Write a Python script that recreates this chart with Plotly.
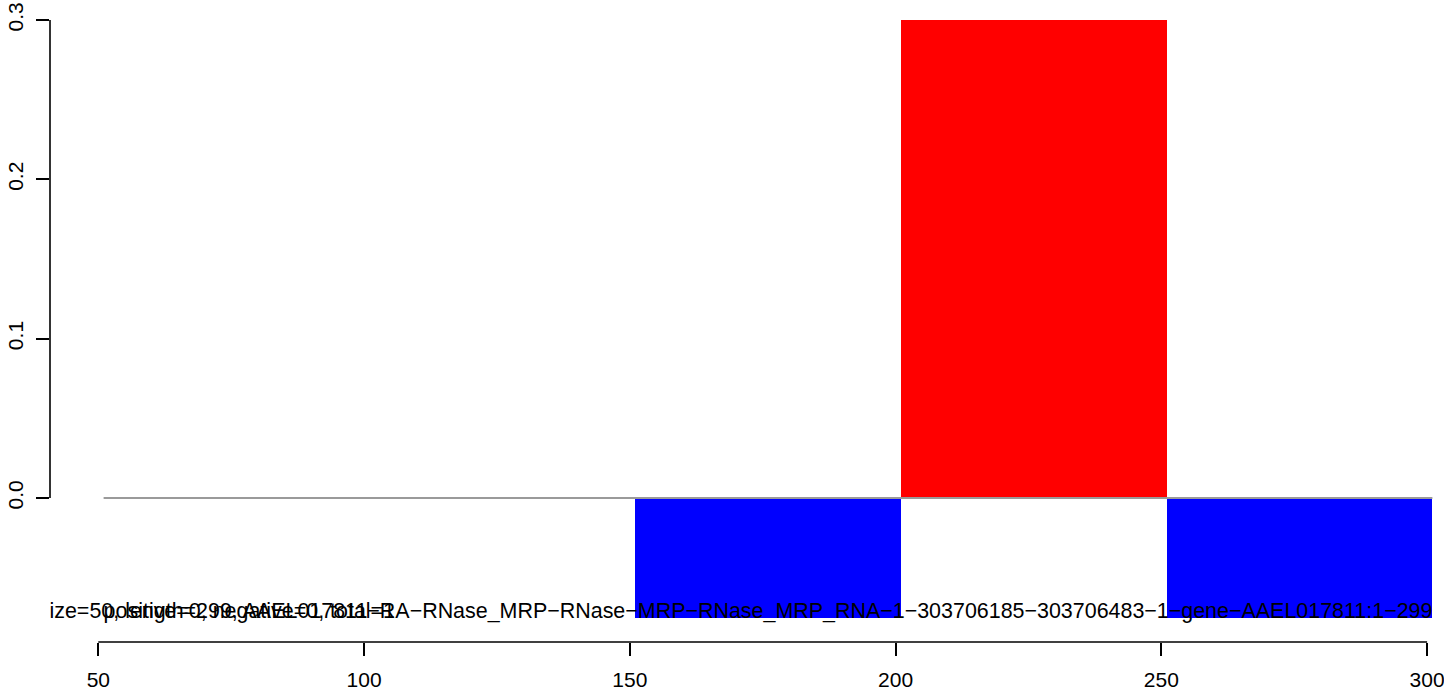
import plotly.graph_objects as go

# ---- data ----
bin_starts = [51, 101, 151, 201, 251]
bin_width = 50
values = [0.0, 0.0, -0.075, 0.3, -0.075]
x_ticks = [50, 100, 150, 200, 250, 300]
y_ticks = [0.0, 0.1, 0.2, 0.3]
y_tick_labels = ["0.0", "0.1", "0.2", "0.3"]
label_name = ("size=50, length=299, AAEL017811\u2212RA\u2212RNase_MRP\u2212RNase\u2212MRP\u2212"
              "RNase_MRP_RNA\u22121\u2212303706185\u2212303706483\u22121\u2212gene\u2212AAEL017811:1\u2212299")
label_counts = "positive=0, negative=0, total=1"

FONT = "Liberation Sans, Arial, Helvetica, sans-serif"
TEXT_Y = -0.072

centers = [s + bin_width / 2 for s in bin_starts]
colors = ["#FF0000" if v > 0 else "#0000FF" for v in values]
x_first = bin_starts[0]
x_last = bin_starts[-1] + bin_width

fig = go.Figure()
fig.add_trace(go.Bar(
    x=centers, y=values, base=0, width=[bin_width] * len(values),
    marker=dict(color=colors, line=dict(width=0)),
    showlegend=False, hoverinfo="skip",
))
# grey zero line across all bins
fig.add_trace(go.Scatter(
    x=[x_first, x_last], y=[0, 0],
    mode="lines", line=dict(color="#9a9a9a", width=2),
    showlegend=False, hoverinfo="skip",
))
# labels (clipped to the plot region, as in the original)
fig.add_trace(go.Scatter(
    x=[x_last], y=[TEXT_Y], mode="text", text=[label_name],
    textposition="middle left", textfont=dict(family=FONT, size=21.45, color="black"),
    cliponaxis=True, showlegend=False, hoverinfo="skip",
))
fig.add_trace(go.Scatter(
    x=[x_first], y=[TEXT_Y], mode="text", text=[label_counts],
    textposition="middle right", textfont=dict(family=FONT, size=21.45, color="black"),
    cliponaxis=True, showlegend=False, hoverinfo="skip",
))

# axis lines spanning only the tick range (R style)
fig.add_shape(type="line", xref="paper", yref="y", x0=0, x1=0,
              y0=min(y_ticks), y1=max(y_ticks), line=dict(color="black", width=1.6))
fig.add_shape(type="line", xref="x", yref="paper", x0=min(x_ticks), x1=max(x_ticks),
              y0=0, y1=0, line=dict(color="black", width=1.6))

fig.update_layout(
    width=1444, height=693,
    margin=dict(l=50, r=0, t=0, b=51, autoexpand=False),
    plot_bgcolor="white", paper_bgcolor="white",
    font=dict(family=FONT, size=21, color="black"),
    bargap=0,
)
fig.update_xaxes(
    range=[40.913, 303.18], showgrid=False, zeroline=False, showline=False,
    tickmode="array", tickvals=x_ticks, ticktext=[str(t) for t in x_ticks],
    ticks="outside", ticklen=13, tickwidth=1.6, tickcolor="black",
    ticklabelstandoff=6, tickfont=dict(family=FONT, size=21, color="black"),
    ticklabeloverflow="allow", automargin=False,
)
fig.update_yaxes(
    range=[-0.09038, 0.31256], showgrid=False, zeroline=False, showline=False,
    tickmode="array", tickvals=y_ticks, ticktext=y_tick_labels,
    ticks="outside", ticklen=13, tickwidth=1.6, tickcolor="black", tickangle=-90,
    ticklabelstandoff=5, tickfont=dict(family=FONT, size=21, color="black"),
    ticklabeloverflow="allow", automargin=False,
)

# the page body has a default 8px margin; remove it so the figure fills the window
fig.write_html("out.html", config={"displayModeBar": False},
               post_script="document.body.style.margin='0px';")
